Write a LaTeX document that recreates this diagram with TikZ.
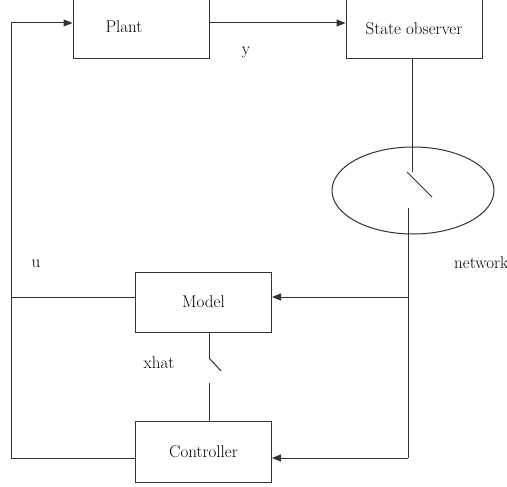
\documentclass[tikz,border=0pt]{standalone}
\usetikzlibrary{arrows.meta,shapes.geometric}
\begin{document}
\begin{tikzpicture}[x=1pt,y=-1pt,
  ln/.style={draw=black!80,line width=1pt},
  arr/.style={ln,-{Triangle[length=9pt,width=7pt]}},
  box/.style={ln,rectangle,minimum width=136pt,minimum height=61pt,inner sep=0pt,font=\fontsize{17}{20}\selectfont},
  lbl/.style={inner sep=0pt,font=\fontsize{17}{20}\selectfont}]
\useasboundingbox[fill=white] (0,0) rectangle (507,487);
% boxes
\node[box] (plant) at (141,28.5) {};
\node[lbl] (plantlbl) at (124,27) {Plant};
\node[box] (obs) at (414,28.5) {State observer};
\node[box,minimum height=60pt] (model) at (203.5,302) {Model};
\node[box] (ctrl) at (203.5,451.5) {Controller};
\node[ln,ellipse,minimum width=162pt,minimum height=87pt,inner sep=0pt] (net) at (413,190.5) {};
% labels
\node[lbl] (ylbl) at (246,53) {y};
\node[lbl] (ulbl) at (36,264) {u};
\node[lbl] (xlbl) at (159,363) {xhat};
\node[lbl,anchor=west] (nlbl) at (454,263) {network};
% coordinates
\coordinate (fbtop) at (11,23);
\coordinate (fbbot) at (11,458);
\coordinate (fbmid) at (11,297);
\coordinate (s1) at (412,172);
\coordinate (s1a) at (407,172);
\coordinate (s1b) at (432,197);
\coordinate (s2) at (408,208);
\coordinate (jm) at (408,297);
\coordinate (jc) at (408,458);
\coordinate (m1) at (209,358);
\coordinate (m1a) at (209,358);
\coordinate (m1b) at (221,371);
\coordinate (m2) at (209,383);
% connectors
\draw[arr] (fbtop) -- (plant.west |- fbtop);
\draw[arr] (plant.east |- fbtop) -- (obs.west |- fbtop);
\draw[ln] (obs.south -| s1) -- (s1);
\draw[ln] (s1a) -- (s1b);
\draw[ln] (s2) -- (jc);
\draw[arr] (jm) -- (model.east |- jm);
\draw[arr] (jc) -- (ctrl.east |- jc);
\draw[ln] (model.west |- fbmid) -- (fbmid);
\draw[ln] (ctrl.west |- fbbot) -- (fbbot) -- (fbtop);
\draw[ln] (model.south -| m1) -- (m1);
\draw[ln] (m1a) -- (m1b);
\draw[ln] (m2) -- (ctrl.north -| m2);
\end{tikzpicture}
\end{document}
